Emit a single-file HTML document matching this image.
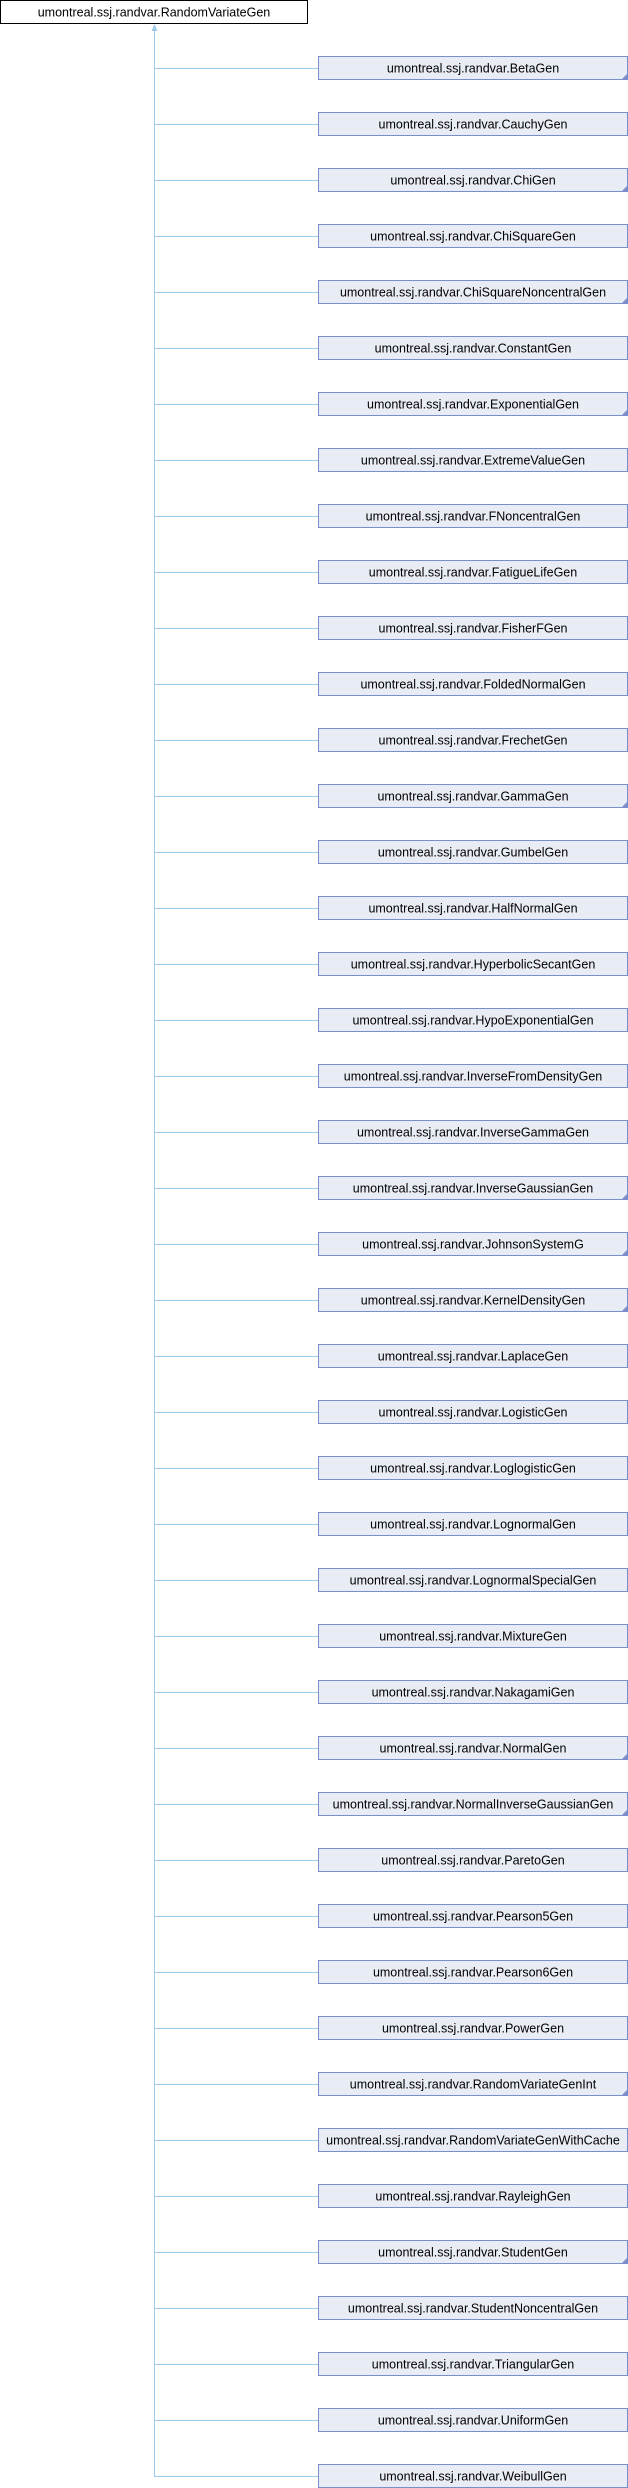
<!DOCTYPE html>
<html><head><meta charset="utf-8"><style>
html,body{margin:0;padding:0;background:#fff;}
svg{display:block;}
text{font-family:"Liberation Sans",sans-serif;font-size:12.5px;fill:#000;}
</style></head><body>
<svg width="628" height="2488" viewBox="0 0 628 2488" xmlns="http://www.w3.org/2000/svg">
<rect x="0.5" y="0.5" width="307" height="23" fill="#fff" stroke="#000"/>
<text x="154" y="16.5" text-anchor="middle">umontreal.ssj.randvar.RandomVariateGen</text>
<line x1="154.5" y1="28" x2="154.5" y2="2476" stroke="#9ccbeb" stroke-width="1"/>
<polygon points="154.5,24 151.5,31 157.5,31" fill="#9ccbeb"/>
<g id="kids"></g>
</svg>
<script>
var names=["BetaGen","CauchyGen","ChiGen","ChiSquareGen","ChiSquareNoncentralGen","ConstantGen","ExponentialGen","ExtremeValueGen","FNoncentralGen","FatigueLifeGen","FisherFGen","FoldedNormalGen","FrechetGen","GammaGen","GumbelGen","HalfNormalGen","HyperbolicSecantGen","HypoExponentialGen","InverseFromDensityGen","InverseGammaGen","InverseGaussianGen","JohnsonSystemG","KernelDensityGen","LaplaceGen","LogisticGen","LoglogisticGen","LognormalGen","LognormalSpecialGen","MixtureGen","NakagamiGen","NormalGen","NormalInverseGaussianGen","ParetoGen","Pearson5Gen","Pearson6Gen","PowerGen","RandomVariateGenInt","RandomVariateGenWithCache","RayleighGen","StudentGen","StudentNoncentralGen","TriangularGen","UniformGen","WeibullGen"];
var marked={BetaGen:1,ChiGen:1,ChiSquareNoncentralGen:1,ExponentialGen:1,GammaGen:1,InverseGaussianGen:1,JohnsonSystemG:1,KernelDensityGen:1,NormalGen:1,NormalInverseGaussianGen:1,RandomVariateGenInt:1,StudentGen:1};
var s="";
for(var i=0;i<names.length;i++){
 var y=56+i*56;
 s+='<line x1="154" y1="'+(y+12.5)+'" x2="318" y2="'+(y+12.5)+'" stroke="#9ccbeb" stroke-width="1"/>';
 s+='<rect x="318.5" y="'+(y+0.5)+'" width="309" height="23" fill="#e8ecf5" stroke="#7a8fc9"/>';
 if(marked[names[i]]) s+='<polygon points="627,'+(y+18)+' 627,'+(y+23)+' 622,'+(y+23)+'" fill="#7a8fc9"/>';
 s+='<text x="473" y="'+(y+16.5)+'" text-anchor="middle">umontreal.ssj.randvar.'+names[i]+'</text>';
}
document.getElementById("kids").innerHTML=s;
</script>
</body></html>
